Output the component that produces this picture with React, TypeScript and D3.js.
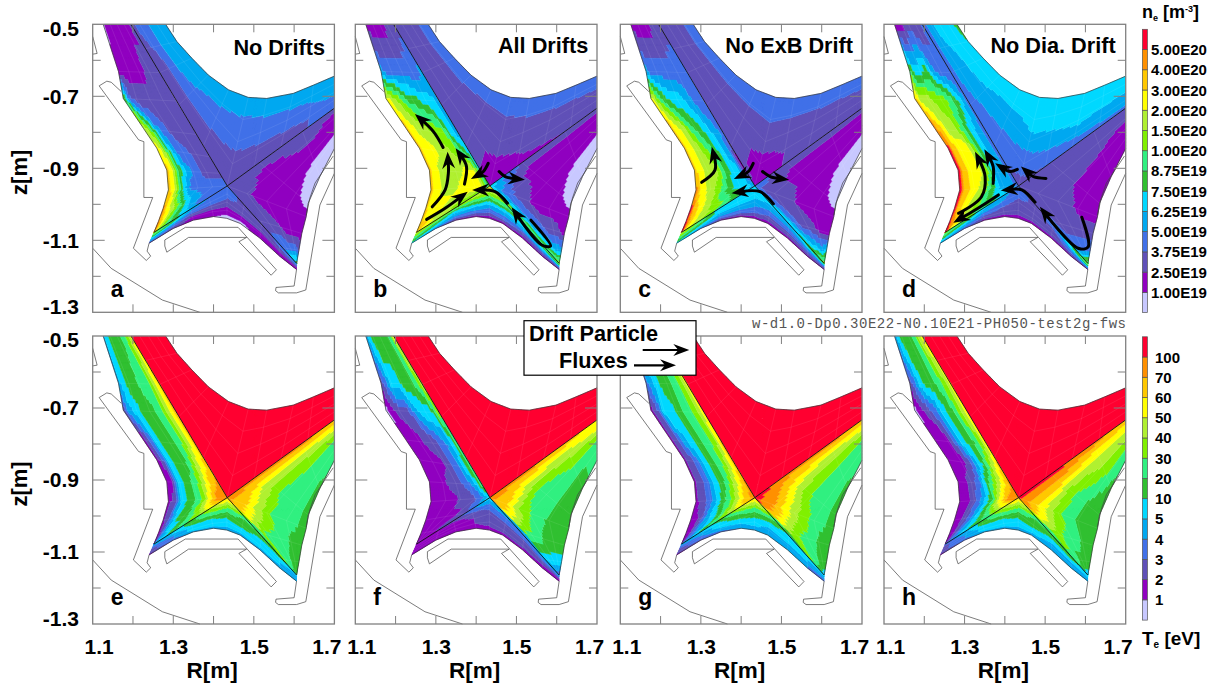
import React from "react";
import * as d3 from "d3";

type P = [number, number];
type Field = { top: number[][]; left: number[][]; right: number[][]; bottom: number[][] };

const WIDTH = 1211;
const HEIGHT = 688;
const FONT = "'Liberation Sans', Arial, sans-serif";

const levelColors = ["#c8c8ff", "#9000c0", "#6050b8", "#4070e8", "#00a8f0", "#00d8ff", "#30c030", "#30f080", "#80f000", "#b0f030", "#ffff00", "#ffc800", "#ff9000", "#ff0030"];
const neLabels = ["5.00E20", "4.00E20", "3.00E20", "2.00E20", "1.50E20", "1.00E20", "8.75E19", "7.50E19", "6.25E19", "5.00E19", "3.75E19", "2.50E19", "1.00E19"];
const teLabels = ["100", "70", "60", "50", "40", "30", "20", "10", "5", "4", "3", "2", "1"];

const xTicks = [1.1, 1.2, 1.3, 1.4, 1.5, 1.6, 1.7];
const xLabels = [1.1, 1.3, 1.5, 1.7];
const yTicks = [-0.5, -0.6, -0.7, -0.8, -0.9, -1.0, -1.1, -1.2, -1.3];
const yLabels = [-0.5, -0.7, -0.9, -1.1, -1.3];

// Mesh of the four plasma sectors: each station pairs a point on the separatrix with a point on the edge (R, z)
const topInner: P[] = [[1.195, -0.5], [1.231, -0.568], [1.267, -0.634], [1.314, -0.724], [1.375, -0.837], [1.434, -0.949], [1.501, -0.895], [1.567, -0.841], [1.634, -0.787], [1.7, -0.733]];
const topOuter: P[] = [[1.281, -0.5], [1.309, -0.548], [1.346, -0.594], [1.387, -0.641], [1.437, -0.682], [1.486, -0.703], [1.532, -0.706], [1.598, -0.692], [1.648, -0.669], [1.7, -0.644]];
const leftInner: P[] = [[1.195, -0.5], [1.267, -0.634], [1.307, -0.713], [1.358, -0.806], [1.391, -0.868], [1.416, -0.914], [1.434, -0.949], [1.375, -0.992], [1.307, -1.039], [1.252, -1.078]];
const leftOuter: P[] = [[1.126, -0.5], [1.164, -0.631], [1.176, -0.706], [1.226, -0.789], [1.259, -0.844], [1.284, -0.905], [1.288, -0.96], [1.275, -1.011], [1.263, -1.048], [1.252, -1.078]];
const rightInner: P[] = [[1.7, -0.733], [1.621, -0.798], [1.514, -0.884], [1.434, -0.949], [1.512, -1.045], [1.572, -1.121], [1.606, -1.164]];
const rightOuter: P[] = [[1.7, -0.845], [1.664, -0.923], [1.635, -0.997], [1.63, -1.034], [1.619, -1.081], [1.612, -1.127], [1.606, -1.164]];
const bottomInner: P[] = [[1.252, -1.078], [1.307, -1.039], [1.343, -1.013], [1.389, -0.981], [1.434, -0.949], [1.477, -0.998], [1.52, -1.047], [1.563, -1.11], [1.606, -1.164]];
const bottomOuter: P[] = [[1.24, -1.108], [1.3, -1.067], [1.35, -1.044], [1.4, -1.034], [1.433, -1.039], [1.466, -1.053], [1.515, -1.094], [1.565, -1.145], [1.606, -1.181]];

const topRows = [0, 2, 4, 5, 7, 9];
const leftRows = [0, 1, 2, 3, 4, 5, 6, 7, 9];
const rightRows = [0, 1, 2, 3, 4, 5, 6];
const bottomRows = [0, 2, 4, 5, 6, 8];
const topCols = [0, 0.2, 0.4, 0.6, 0.8, 1];
const leftCols = [0, 0.15, 0.3, 0.45, 0.6, 0.75, 0.9, 1];
const rightCols = [0, 0.2, 0.4, 0.6, 0.8, 1];
const bottomCols = [0, 0.25, 0.5, 0.75, 1];

// Walls (R, z)
const wallLeftTop: P[] = [[1.1, -0.534], [1.111, -0.581], [1.1, -0.583]];
const wallLeft: P[] = [[1.171, -0.687], [1.146, -0.661], [1.135, -0.658], [1.116, -0.671], [1.214, -0.821], [1.227, -0.826], [1.227, -0.981], [1.249, -0.981], [1.201, -1.122], [1.233, -1.156], [1.244, -1.144], [1.235, -1.13], [1.24, -1.108]];
const wallDome: P[] = [[1.279, -1.099], [1.33, -1.064], [1.461, -1.064], [1.552, -1.177], [1.556, -1.182], [1.543, -1.197], [1.463, -1.104], [1.482, -1.092], [1.338, -1.092], [1.284, -1.133], [1.279, -1.116], [1.279, -1.099]];
const wallRight: P[] = [[1.606, -1.181], [1.6, -1.227], [1.555, -1.231], [1.554, -1.24], [1.561, -1.246], [1.606, -1.246], [1.629, -1.238], [1.664, -1.002], [1.7, -0.914]];
const wallRightInner: P[] = [[1.697, -0.866], [1.678, -0.897], [1.652, -0.941], [1.639, -0.983], [1.63, -1.03]];
const wallVessel: P[] = [[1.1, -1.122], [1.146, -1.178], [1.273, -1.266], [1.366, -1.3]];

// Density fields: colour level per station (rows) from separatrix to edge (columns)
const neA: Field = {
  top: [[2, 3, 3, 4, 4, 4], [2, 2, 3, 4, 4, 4], [2, 2, 3, 3, 4, 4], [2, 2, 2.5, 3, 3.5, 4], [2, 2, 3, 3, 4, 4], [3, 3, 3.5, 4, 4, 4]],
  left: [[2, 1, 1, 1, 1, 1, 1, 0], [2, 2, 2, 1, 1, 1, 1, 1], [2, 2, 2, 2, 2, 2, 3, 7], [2, 2, 2, 2, 3, 4, 8, 9], [2, 2, 2, 3, 3, 5, 9, 10], [2, 2, 2, 3, 4, 6, 10, 11], [3, 3, 3, 3, 3, 5, 10, 11], [3, 3, 4, 5, 7, 9, 10, 12], [9, 9, 9, 10, 10, 11, 12, 12]],
  right: [[2, 1, 1, 0.6, 0, 0], [2, 2, 1, 0.6, 0, 0], [2, 1, 1, 1, 0.6, 0], [2, 2, 1, 1, 1, 1], [2, 2, 2, 1, 1, 1], [3, 3, 3, 3, 3, 2], [6, 6, 6, 6, 6, 6]],
  bottom: [[8, 7, 5, 4, 2], [4, 3, 2, 1, 1], [3, 3, 2, 1, 0], [2, 2, 2, 1, 0], [2, 2, 2, 1, 1], [4, 3, 2, 1, 1]],
};
const neB: Field = {
  top: [[2, 2, 2, 2, 3, 3], [2, 2, 2, 2, 3, 3], [2, 2, 2, 2, 2.5, 3], [1, 1, 1.8, 2, 2.5, 3], [1.2, 2, 2, 2, 3, 3], [2, 2, 2, 2.5, 3, 3]],
  left: [[2, 2, 1.6, 1, 1, 1, 1, 1], [4, 3, 3, 3, 3, 3, 3, 4], [4, 5, 5, 6, 6, 8, 9, 10], [4, 5, 8, 8, 9, 9, 10, 11], [5, 7, 8, 9, 9, 10, 10, 11], [5, 10, 10, 9, 9, 9, 10, 11], [6, 10, 10, 10, 9, 9, 10, 11], [8, 8, 9, 9, 10, 10, 10, 11], [10, 10, 10, 10, 11, 11, 11, 11]],
  right: [[2, 1, 1, 0.6, 0, 0], [2, 1, 1, 0.6, 0, 0], [2, 1, 1, 1, 0.6, 0], [5, 3, 2, 1, 1, 1], [8, 4, 3, 2, 2, 1], [7, 6, 5, 4, 4, 4], [8, 8, 8, 8, 8, 8]],
  bottom: [[9, 8, 7, 6, 5], [8, 5, 4, 3, 1], [10, 8, 5, 3, 1], [8, 6, 4, 3, 1], [7, 5, 4, 2, 1], [7, 6, 4, 2, 1]],
};
const neC: Field = {
  top: [[2, 2, 2, 2, 3, 3], [2, 2, 2, 2, 3, 3], [2, 2, 2, 2, 3, 3], [1.4, 1, 1.6, 2, 3, 3], [1.6, 2, 2, 2, 3, 3], [2, 2, 2, 2.5, 3, 3]],
  left: [[2, 2, 1.6, 1, 1, 1, 1, 1], [3, 3, 3, 3, 3, 3, 3, 4], [3, 3, 4, 5, 5, 6, 8, 10], [3, 4, 5, 6, 7, 9, 10, 11], [1, 4, 5, 7, 8, 9, 10, 11], [1, 5, 5, 7, 9, 9, 10, 11], [4, 5, 5, 6, 8, 9, 10, 12], [6, 7, 8, 8, 9, 10, 11, 13], [10, 10, 10, 11, 11, 12, 13, 13]],
  right: [[2, 1, 1, 0.6, 0, 0], [2, 1, 1, 0.6, 0, 0], [2, 1, 1, 1, 0.6, 0], [3, 2, 2, 1, 1, 1], [5, 3, 2, 2, 1, 1], [6, 5, 5, 4, 4, 5], [8, 8, 8, 8, 8, 8]],
  bottom: [[9, 8, 7, 6, 5], [5, 5, 4, 3, 1], [5, 5, 4, 3, 1], [5, 4, 3, 2, 1], [5, 4, 3, 2, 1], [7, 5, 3, 2, 1]],
};
const neD: Field = {
  top: [[3, 4, 5, 5, 5, 6], [3, 4, 4, 5, 5, 5], [3, 3, 4, 4, 5, 5], [2, 3, 3.5, 4.5, 5, 5], [3, 3.6, 4.5, 5, 5, 5], [3, 4, 4, 5, 5, 5]],
  left: [[3, 2, 2, 2, 2, 1, 1, 1], [3, 3, 3, 4, 6, 5, 5, 7], [3, 5, 7, 8, 8, 9, 9, 11], [3, 4, 5, 7, 9, 9, 11, 12], [3, 4, 5, 8, 10, 10, 11, 13], [3, 4, 4, 8, 10, 10, 11, 13], [3, 4, 4, 6, 9, 10, 11, 13], [6, 6, 7, 8, 9, 10, 11, 13], [10, 10, 11, 11, 12, 13, 13, 13]],
  right: [[2, 2, 1, 1, 1, 1], [2, 2, 1.6, 1, 1, 1], [2, 2, 2, 1, 1, 1], [2, 2, 2, 2, 1, 1], [3, 2, 2, 2, 2, 2], [4, 3, 3, 3, 3, 3], [7, 7, 7, 7, 7, 7]],
  bottom: [[8, 7, 6, 5, 4], [5, 4, 3, 2, 1], [3, 3, 2, 2, 1], [2, 2, 2, 2, 1], [3, 3, 2, 2, 1], [8, 7, 5, 3, 1]],
};

// Temperature fields
const coreRed = [[13, 13, 13, 13, 13, 13], [13, 13, 13, 13, 13, 13], [13, 13, 13, 13, 13, 13], [13, 13, 13, 13, 13, 13], [13, 13, 13, 13, 13, 13], [13, 13, 13, 13, 13, 13]];
const teE: Field = {
  top: coreRed,
  left: [[10, 8, 7, 6, 6, 6, 5, 4], [11, 9, 7, 7, 6, 6, 5, 4], [11, 9, 7, 6, 6, 5, 4, 2], [11, 9, 7, 6, 6, 5, 2, 1], [11, 10, 8, 6, 6, 5, 2, 1], [12, 11, 9, 7, 6, 5, 1, 1], [12, 12, 10, 7, 6, 5, 2, 1], [9, 8, 7, 6, 6, 4, 2, 1], [4, 4, 4, 3, 3, 2, 1, 1]],
  right: [[11, 10, 8, 7, 7, 7], [12, 9, 8, 7, 7, 6], [12, 9, 7.5, 7, 7, 6], [12, 11, 9, 7, 7, 6], [9, 7, 7, 7, 6, 6], [8, 7, 7, 6, 6, 6], [6, 6, 6, 6, 6, 6]],
  bottom: [[4, 3, 2, 2, 1], [6, 6, 5, 5, 4], [11, 8, 6, 5, 4], [8, 6, 6, 5, 4], [7, 6, 5, 5, 4], [5, 4, 4, 4, 4]],
};
const teF: Field = {
  top: coreRed,
  left: [[10, 7, 6, 6, 6, 6, 5, 4], [9, 7, 6, 6, 5, 5, 3, 2], [8, 5, 5, 4, 2, 2, 1, 0], [7, 4, 3, 2, 2, 1, 1, 1], [7, 5, 3, 2, 1, 1, 1, 1], [7, 4, 3, 2, 2, 1, 1, 1], [5, 3, 2, 2, 1, 1, 1, 1], [2, 2, 1, 1, 1, 1, 1, 1], [1, 1, 1, 1, 1, 1, 1, 1]],
  right: [[10, 10, 8, 7, 7, 7], [11, 9, 8, 7, 6, 6], [12, 9, 7, 7, 6, 6], [12, 11, 8, 7, 6, 6], [8, 7, 7, 6, 6, 6], [4, 5, 5, 5, 5, 5], [3, 3, 3, 3, 3, 3]],
  bottom: [[1, 1, 1, 1, 1], [2, 1, 1, 1, 1], [5, 3, 2, 2, 1], [4, 3, 2, 2, 1], [4, 3, 2, 2, 1], [4, 3, 2, 1, 1]],
};
const teG: Field = {
  top: coreRed,
  left: [[10, 8, 7, 6, 6, 6, 5, 4], [10, 8, 7, 6, 6, 5, 4, 3], [10, 8, 7, 6, 5, 5, 2, 1], [11, 8, 7, 6, 5, 4, 2, 1], [11, 9, 7, 6, 5, 3, 2, 1], [12, 10, 8, 6, 5, 3, 2, 1], [12, 11, 9, 7, 5, 3, 2, 1], [9, 8, 6, 5, 4, 2, 1, 1], [3, 3, 2, 2, 2, 1, 1, 1]],
  right: [[11, 10, 8, 7, 7, 7], [12, 9, 8, 7, 7, 6], [12, 10, 8, 7, 7, 6], [13, 12, 10, 8, 7, 6], [9, 8, 7, 7, 6, 6], [8, 7, 7, 6, 6, 6], [5, 5, 5, 5, 5, 5]],
  bottom: [[4, 3, 2, 2, 1], [6, 5, 5, 4, 3], [11, 8, 6, 5, 4], [8, 6, 5, 4, 4], [6, 5, 5, 4, 4], [5, 4, 4, 3, 3]],
};
const teH: Field = {
  top: coreRed,
  left: [[10, 9, 7, 6, 6, 6, 5, 4], [10, 8, 7, 6, 6, 5, 3, 2], [10, 8, 6, 5, 3, 2, 1, 0], [10, 7, 6, 5, 3, 1, 1, 1], [11, 9, 6, 4, 2, 1, 1, 1], [12, 10, 8, 6, 3, 2, 1, 1], [12, 12, 10, 6, 4, 2, 1, 1], [8, 7, 6, 5, 3, 2, 1, 1], [3, 3, 2, 2, 2, 1, 1, 1]],
  right: [[11, 10, 9, 8, 7, 7], [12, 10, 9, 8, 7, 6], [13, 11, 8, 7, 6, 6], [13, 11, 9, 7, 6, 6], [8, 8, 7, 7, 6, 6], [7, 7, 6, 6, 6, 6], [5, 5, 5, 5, 5, 5]],
  bottom: [[3, 2, 2, 2, 1], [6, 6, 5, 5, 4], [11, 8, 6, 5, 4], [8, 6, 6, 5, 4], [7, 6, 5, 4, 4], [5, 5, 4, 4, 4]],
};

// Drift arrows (R, z), tail to tip
const arrowsB: P[][] = [
  [[1.318, -0.842], [1.294, -0.798], [1.248, -0.749]],
  [[1.291, -1.007], [1.323, -0.96], [1.331, -0.914], [1.329, -0.854]],
  [[1.371, -0.944], [1.376, -0.895], [1.349, -0.844]],
  [[1.277, -1.042], [1.323, -1.011], [1.379, -0.965]],
  [[1.43, -0.886], [1.418, -0.909], [1.387, -0.93]],
  [[1.478, -0.997], [1.447, -0.965], [1.39, -0.96]],
  [[1.457, -0.909], [1.472, -0.923], [1.521, -0.932]],
  [[1.536, -1.044], [1.585, -1.116], [1.563, -1.113], [1.488, -1.008]],
];
const arrowsC: P[][] = [
  [[1.302, -0.939], [1.335, -0.905], [1.327, -0.84]],
  [[1.43, -0.886], [1.418, -0.909], [1.382, -0.93]],
  [[1.48, -0.999], [1.447, -0.965], [1.376, -0.969]],
  [[1.453, -0.909], [1.472, -0.923], [1.519, -0.932]],
];
const arrowsD: P[][] = [
  [[1.384, -0.974], [1.326, -1.016], [1.272, -1.051]],
  [[1.285, -1.025], [1.342, -0.979], [1.351, -0.923], [1.326, -0.854]],
  [[1.371, -0.942], [1.371, -0.895], [1.349, -0.847]],
  [[1.431, -0.903], [1.413, -0.909], [1.376, -0.886]],
  [[1.502, -0.928], [1.471, -0.923], [1.44, -0.895]],
  [[1.475, -0.994], [1.442, -0.96], [1.39, -0.962]],
  [[1.591, -1.036], [1.607, -1.118], [1.582, -1.122], [1.487, -1.007]],
];

const panelLefts = [92.7, 355.3, 620.3, 884];
const rowTops = [24.3, 336];
const PW = 241.7;
const PH = 288;

const panels = [
  { letter: "a", title: "No Drifts", col: 0, row: 0, field: neA, arrows: [] as P[][], titleRight: 325, titleY: 55 },
  { letter: "b", title: "All Drifts", col: 1, row: 0, field: neB, arrows: arrowsB, titleRight: 588.3, titleY: 53 },
  { letter: "c", title: "No ExB Drift", col: 2, row: 0, field: neC, arrows: arrowsC, titleRight: 853, titleY: 53 },
  { letter: "d", title: "No Dia. Drift", col: 3, row: 0, field: neD, arrows: arrowsD, titleRight: 1115.7, titleY: 53 },
  { letter: "e", title: "", col: 0, row: 1, field: teE, arrows: [] as P[][], titleRight: 0, titleY: 0 },
  { letter: "f", title: "", col: 1, row: 1, field: teF, arrows: [] as P[][], titleRight: 0, titleY: 0 },
  { letter: "g", title: "", col: 2, row: 1, field: teG, arrows: [] as P[][], titleRight: 0, titleY: 0 },
  { letter: "h", title: "", col: 3, row: 1, field: teH, arrows: [] as P[][], titleRight: 0, titleY: 0 },
];

const sectors = [
  { key: "top", inner: topInner, outer: topOuter, rows: topRows, cols: topCols },
  { key: "left", inner: leftInner, outer: leftOuter, rows: leftRows, cols: leftCols },
  { key: "right", inner: rightInner, outer: rightOuter, rows: rightRows, cols: rightCols },
  { key: "bottom", inner: bottomInner, outer: bottomOuter, rows: bottomRows, cols: bottomCols },
] as const;

const SUB_S = 7;
const SUB_T = 28;

function bracket(knots: readonly number[], v: number): [number, number] {
  const i = Math.min(knots.length - 2, Math.max(0, d3.bisectRight(knots as number[], v) - 1));
  return [i, (v - knots[i]) / (knots[i + 1] - knots[i])];
}

function sampleField(m: number[][], rows: readonly number[], cols: readonly number[], u: number, t: number) {
  const [i, fi] = bracket(rows, u);
  const [j, fj] = bracket(cols, t);
  const a = m[i][j] + (m[i][j + 1] - m[i][j]) * fj;
  const b = m[i + 1][j] + (m[i + 1][j + 1] - m[i + 1][j]) * fj;
  return a + (b - a) * fi;
}

function meshPoint(inner: P[], outer: P[], u: number, t: number): P {
  const k = Math.min(inner.length - 2, Math.floor(u));
  const f = u - k;
  const ix = inner[k][0] + (inner[k + 1][0] - inner[k][0]) * f;
  const iy = inner[k][1] + (inner[k + 1][1] - inner[k][1]) * f;
  const ox = outer[k][0] + (outer[k + 1][0] - outer[k][0]) * f;
  const oy = outer[k][1] + (outer[k + 1][1] - outer[k][1]) * f;
  return [ix + (ox - ix) * t, iy + (oy - iy) * t];
}

function Arrow({ pts, sx, sy }: { pts: P[]; sx: (v: number) => number; sy: (v: number) => number }) {
  const px = pts.map((p) => [sx(p[0]), sy(p[1])] as P);
  const tip = px[px.length - 1];
  const line = d3.line().curve(d3.curveCatmullRom.alpha(0.5));
  const node = document.createElementNS("http://www.w3.org/2000/svg", "path");
  node.setAttribute("d", line(px) || "");
  const len = node.getTotalLength();
  const q = node.getPointAtLength(Math.max(0, len - 12));
  const a = Math.atan2(tip[1] - q.y, tip[0] - q.x);
  const L = 17;
  const W = 6.5;
  const rot = (x: number, y: number): P => [tip[0] + x * Math.cos(a) - y * Math.sin(a), tip[1] + x * Math.sin(a) + y * Math.cos(a)];
  const head = d3.line()([rot(0, 0), rot(-L, -W), rot(-L * 0.68, 0), rot(-L, W)]) + "Z";
  const shaftEnd = node.getPointAtLength(Math.max(0, len - 9));
  const shaft: P[] = px.slice(0, -1).concat([[shaftEnd.x, shaftEnd.y]]);
  return (
    <g>
      <path d={line(shaft) || ""} fill="none" stroke="#000" strokeWidth={3} strokeLinecap="round" />
      <path d={head} fill="#000" />
    </g>
  );
}

function Panel({ p }: { p: (typeof panels)[number] }) {
  const left = panelLefts[p.col];
  const top = rowTops[p.row];
  const sx = d3.scaleLinear().domain([1.1, 1.7]).range([left, left + PW]);
  const sy = d3.scaleLinear().domain([-0.5, -1.3]).range([top, top + PH]);
  const line = d3.line<P>().x((d) => sx(d[0])).y((d) => sy(d[1]));
  const axisColor = "#808080";
  const X: P = topInner[5];
  const seps: P[][] = [[topInner[0], X], [X, topInner[9]], [X, bottomInner[0]], [X, bottomInner[8]]];

  const fills: { key: string; d: string; color: string }[] = [];
  const meshLines: string[] = [];
  sectors.forEach((sec) => {
    const m = p.field[sec.key];
    const ns = (sec.inner.length - 1) * SUB_S;
    const paths = levelColors.map(() => d3.path());
    for (let a = 0; a < ns; a++) {
      const u0 = a / SUB_S;
      const u1 = (a + 1) / SUB_S;
      for (let b = 0; b < SUB_T; b++) {
        const t0 = b / SUB_T;
        const t1 = (b + 1) / SUB_T;
        const v = sampleField(m, sec.rows, sec.cols, (u0 + u1) / 2, (t0 + t1) / 2);
        const lev = Math.max(0, Math.min(13, Math.round(v)));
        const ctx = paths[lev];
        const c = [meshPoint(sec.inner, sec.outer, u0, t0), meshPoint(sec.inner, sec.outer, u1, t0), meshPoint(sec.inner, sec.outer, u1, t1), meshPoint(sec.inner, sec.outer, u0, t1)];
        ctx.moveTo(+sx(c[0][0]).toFixed(1), +sy(c[0][1]).toFixed(1));
        ctx.lineTo(+sx(c[1][0]).toFixed(1), +sy(c[1][1]).toFixed(1));
        ctx.lineTo(+sx(c[2][0]).toFixed(1), +sy(c[2][1]).toFixed(1));
        ctx.lineTo(+sx(c[3][0]).toFixed(1), +sy(c[3][1]).toFixed(1));
        ctx.closePath();
      }
    }
    paths.forEach((pth, i) => {
      const d = pth.toString();
      if (d) fills.push({ key: `${sec.key}${i}`, d, color: levelColors[i] });
    });
    for (let k = 1; k < sec.inner.length - 1; k++) {
      meshLines.push(line([sec.inner[k], sec.outer[k]]) || "");
    }
    for (let b = 7; b < SUB_T; b += 7) {
      const pts: P[] = d3.range(sec.inner.length).map((k) => meshPoint(sec.inner, sec.outer, k, b / SUB_T));
      meshLines.push(line(pts) || "");
    }
  });

  return (
    <g>
      {fills.map((f) => (
        <path key={f.key} d={f.d} fill={f.color} stroke={f.color} strokeWidth={0.35} />
      ))}
      {meshLines.map((d, i) => (
        <path key={i} d={d} fill="none" stroke="#fff" strokeOpacity={0.14} strokeWidth={0.6} />
      ))}
      {[topOuter, leftOuter, rightOuter, bottomOuter].map((o, i) => (
        <path key={i} d={line(o) || ""} fill="none" stroke="#333" strokeWidth={0.7} />
      ))}
      {seps.map((s, i) => (
        <path key={i} d={line(s) || ""} fill="none" stroke="#111" strokeWidth={0.9} />
      ))}
      {[wallLeftTop, wallLeft, wallDome, wallRight, wallRightInner, wallVessel].map((w, i) => (
        <path key={i} d={line(w) || ""} fill="none" stroke="#444" strokeWidth={0.7} />
      ))}
      <rect x={left} y={top} width={PW} height={PH} fill="none" stroke={axisColor} strokeWidth={1.3} />
      {xTicks.slice(1, -1).map((v) => (
        <g key={v} stroke={axisColor} strokeWidth={1}>
          <line x1={sx(v)} x2={sx(v)} y1={top} y2={top + 8} />
          <line x1={sx(v)} x2={sx(v)} y1={top + PH} y2={top + PH - 8} />
        </g>
      ))}
      {yTicks.slice(1, -1).map((v) => {
        const major = yLabels.includes(v);
        return (
          <g key={v} stroke={axisColor} strokeWidth={1}>
            <line x1={left} x2={left + (major ? 12 : 8)} y1={sy(v)} y2={sy(v)} />
            <line x1={left + PW} x2={left + PW - (major ? 12 : 8)} y1={sy(v)} y2={sy(v)} />
          </g>
        );
      })}
      {p.title && (
        <text x={p.titleRight} y={p.titleY} textAnchor="end" fontFamily={FONT} fontWeight={700} fontSize={21.7} fill="#000">
          {p.title}
        </text>
      )}
      <text x={left + 18} y={top + (p.row === 0 ? 272.5 : 269)} fontFamily={FONT} fontWeight={700} fontSize={23} fill="#000">
        {p.letter}
      </text>
      {p.row === 1 &&
        xLabels.map((v, i) => (
          <text key={v} x={sx(v) + (i === 0 ? 6.5 : i === 3 ? -7.5 : 0.4)} y={654} textAnchor="middle" fontFamily={FONT} fontWeight={700} fontSize={21} fill="#000">
            {v.toFixed(1)}
          </text>
        ))}
      {p.row === 1 && (
        <text x={left + PW / 2 - 1.5} y={678} textAnchor="middle" fontFamily={FONT} fontWeight={700} fontSize={22.5} fill="#000">
          R[m]
        </text>
      )}
      {p.col === 0 &&
        yLabels.map((v, i) => (
          <text key={v} x={79} y={sy(v) + 7.2 + (i === 0 ? 4 : i === 4 ? -5.5 : 0)} textAnchor="end" fontFamily={FONT} fontWeight={700} fontSize={21} fill="#000">
            {v.toFixed(1)}
          </text>
        ))}
      {p.col === 0 && (
        <text transform={`translate(27,${top + 148}) rotate(-90)`} textAnchor="middle" fontFamily={FONT} fontWeight={700} fontSize={22} fill="#000">
          z[m]
        </text>
      )}
      {p.arrows.map((a, i) => (
        <Arrow key={i} pts={a} sx={sx} sy={sy} />
      ))}
    </g>
  );
}

function ColorBar({ top, labels, labelX }: { top: number; labels: string[]; labelX: number }) {
  const H = 283.3;
  const sb = d3.scaleLinear().domain([0, levelColors.length]).range([top + H, top]);
  return (
    <g>
      {levelColors.map((c, i) => (
        <rect key={c} x={1142.4} width={5} y={sb(i + 1)} height={sb(i) - sb(i + 1)} fill={c} stroke="#555" strokeWidth={0.7} />
      ))}
      {labels.map((l, i) => (
        <text key={l + i} x={labelX} y={sb(labels.length - i) + 5.5} fontFamily={FONT} fontWeight={700} fontSize={15} fill="#000">
          {l}
        </text>
      ))}
    </g>
  );
}

function BoxArrow({ x1, x2, y }: { x1: number; x2: number; y: number }) {
  return (
    <g>
      <line x1={x1} x2={x2 - 8} y1={y} y2={y} stroke="#000" strokeWidth={2.2} />
      <path d={d3.line()([[x2, y], [x2 - 16, y - 6], [x2 - 11, y], [x2 - 16, y + 6]]) + "Z"} fill="#000" />
    </g>
  );
}

export default function App() {
  return (
    <svg width={WIDTH} height={HEIGHT} viewBox={`0 0 ${WIDTH} ${HEIGHT}`} style={{ position: "absolute", left: 0, top: 0, background: "#fff" }}>
      {panels.map((p) => (
        <Panel key={p.letter} p={p} />
      ))}
      <ColorBar top={29.3} labels={neLabels} labelX={1151} />
      <ColorBar top={336.8} labels={teLabels} labelX={1155} />
      <text x={1142} y={18} fontFamily={FONT} fontWeight={700} fontSize={18} fill="#000">
        n<tspan fontSize={9} dy={3}>e</tspan>
        <tspan dy={-3}> [m</tspan>
        <tspan fontSize={9} dy={-6}>-3</tspan>
        <tspan dy={6}>]</tspan>
      </text>
      <text x={1142} y={645} fontFamily={FONT} fontWeight={700} fontSize={19} fill="#000">
        T<tspan fontSize={10} dy={3}>e</tspan>
        <tspan dy={-3}> [eV]</tspan>
      </text>
      <text x={752} y={328} fontFamily="'Liberation Mono', monospace" fontSize={14} fill="#555" textLength={374} lengthAdjust="spacing">
        w-d1.0-Dp0.30E22-N0.10E21-PH050-test2g-fws
      </text>
      <rect x={524} y={320.7} width={172} height={54.5} fill="#fff" stroke="#000" strokeWidth={1.2} />
      <text x={529} y={341} fontFamily={FONT} fontWeight={700} fontSize={21.7} fill="#000">
        Drift Particle
      </text>
      <text x={559} y={368} fontFamily={FONT} fontWeight={700} fontSize={21.7} fill="#000">
        Fluxes
      </text>
      <BoxArrow x1={642.7} x2={689.3} y={350} />
      <BoxArrow x1={634} x2={676} y={365.3} />
    </svg>
  );
}
